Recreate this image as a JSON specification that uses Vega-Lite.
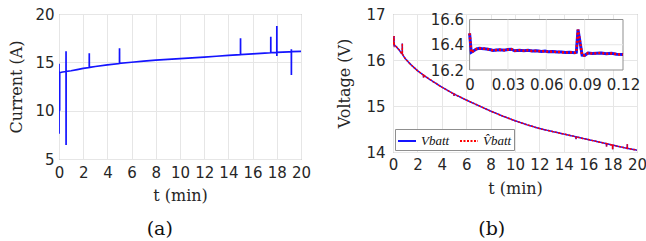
{
  "$schema": "https://vega.github.io/schema/vega-lite/v6.json",
  "background": "white",
  "padding": {"left": 8, "top": 6, "right": 0, "bottom": 0},
  "spacing": 24,
  "datasets": {
    "cur": [
      {"t": 0, "I": 14.85}, {"t": 0.004, "I": 7.6}, {"t": 0.008, "I": 13.92},
      {"t": 0.05, "I": 13.93}, {"t": 0.054, "I": 10.0}, {"t": 0.058, "I": 13.93},
      {"t": 0.3, "I": 14.0}, {"t": 0.58, "I": 14.05}, {"t": 0.583, "I": 16.15}, {"t": 0.586, "I": 6.45}, {"t": 0.589, "I": 14.06},
      {"t": 1.0, "I": 14.13}, {"t": 1.5, "I": 14.25}, {"t": 2.0, "I": 14.37},
      {"t": 2.5, "I": 14.46}, {"t": 2.503, "I": 15.93}, {"t": 2.506, "I": 14.47},
      {"t": 3.0, "I": 14.57}, {"t": 4.0, "I": 14.74},
      {"t": 5.0, "I": 14.88}, {"t": 5.003, "I": 16.45}, {"t": 5.006, "I": 14.89},
      {"t": 6.0, "I": 15.01}, {"t": 7.0, "I": 15.13}, {"t": 8.0, "I": 15.23}, {"t": 9.0, "I": 15.31},
      {"t": 10.0, "I": 15.39}, {"t": 11.0, "I": 15.46}, {"t": 12.0, "I": 15.54}, {"t": 13.0, "I": 15.63},
      {"t": 14.0, "I": 15.72}, {"t": 15.0, "I": 15.8}, {"t": 15.003, "I": 17.49}, {"t": 15.006, "I": 15.81},
      {"t": 16.0, "I": 15.88}, {"t": 17.0, "I": 15.96},
      {"t": 17.5, "I": 15.99}, {"t": 17.503, "I": 17.65}, {"t": 17.506, "I": 16.0},
      {"t": 18.0, "I": 16.03}, {"t": 18.003, "I": 18.76}, {"t": 18.006, "I": 15.66}, {"t": 18.009, "I": 16.04},
      {"t": 19.0, "I": 16.09}, {"t": 19.2, "I": 16.1}, {"t": 19.203, "I": 16.35}, {"t": 19.206, "I": 13.69}, {"t": 19.209, "I": 16.11},
      {"t": 20.0, "I": 16.13}
    ],
    "volt": [
      {"t": 0, "V": 16.49, "Vhat": 16.49}, {"t": 0.0013, "V": 16.34, "Vhat": 16.34}, {"t": 0.003, "V": 16.35, "Vhat": 16.35},
      {"t": 0.0052, "V": 16.366, "Vhat": 16.366}, {"t": 0.0075, "V": 16.372, "Vhat": 16.372}, {"t": 0.0092, "V": 16.37, "Vhat": 16.37},
      {"t": 0.0115, "V": 16.368, "Vhat": 16.368}, {"t": 0.0144, "V": 16.365, "Vhat": 16.365}, {"t": 0.0165, "V": 16.36, "Vhat": 16.36},
      {"t": 0.0183, "V": 16.355, "Vhat": 16.355}, {"t": 0.021, "V": 16.358, "Vhat": 16.358}, {"t": 0.0235, "V": 16.36, "Vhat": 16.36},
      {"t": 0.027, "V": 16.357, "Vhat": 16.357}, {"t": 0.03, "V": 16.362, "Vhat": 16.362}, {"t": 0.0326, "V": 16.365, "Vhat": 16.365},
      {"t": 0.0352, "V": 16.352, "Vhat": 16.352}, {"t": 0.039, "V": 16.357, "Vhat": 16.357}, {"t": 0.0425, "V": 16.352, "Vhat": 16.352},
      {"t": 0.0457, "V": 16.356, "Vhat": 16.356}, {"t": 0.049, "V": 16.35, "Vhat": 16.35}, {"t": 0.0525, "V": 16.353, "Vhat": 16.353},
      {"t": 0.0561, "V": 16.347, "Vhat": 16.347}, {"t": 0.059, "V": 16.35, "Vhat": 16.35}, {"t": 0.0614, "V": 16.344, "Vhat": 16.344},
      {"t": 0.065, "V": 16.347, "Vhat": 16.347}, {"t": 0.0685, "V": 16.342, "Vhat": 16.342}, {"t": 0.0718, "V": 16.342, "Vhat": 16.342},
      {"t": 0.075, "V": 16.338, "Vhat": 16.338}, {"t": 0.0785, "V": 16.34, "Vhat": 16.34}, {"t": 0.0822, "V": 16.336, "Vhat": 16.336},
      {"t": 0.0835, "V": 16.34, "Vhat": 16.34}, {"t": 0.0848, "V": 16.52, "Vhat": 16.52}, {"t": 0.0864, "V": 16.42, "Vhat": 16.42},
      {"t": 0.088, "V": 16.318, "Vhat": 16.318}, {"t": 0.09, "V": 16.316, "Vhat": 16.316}, {"t": 0.0927, "V": 16.334, "Vhat": 16.334},
      {"t": 0.096, "V": 16.33, "Vhat": 16.33}, {"t": 0.0995, "V": 16.333, "Vhat": 16.333}, {"t": 0.103, "V": 16.335, "Vhat": 16.335},
      {"t": 0.107, "V": 16.328, "Vhat": 16.328}, {"t": 0.111, "V": 16.332, "Vhat": 16.332}, {"t": 0.115, "V": 16.325, "Vhat": 16.325},
      {"t": 0.12, "V": 16.322, "Vhat": 16.322},
      {"t": 0.27, "V": 16.29, "Vhat": 16.29}, {"t": 0.5, "V": 16.22, "Vhat": 16.22}, {"t": 0.68, "V": 16.15, "Vhat": 16.15},
      {"t": 0.76, "V": 16.13, "Vhat": 16.13}, {"t": 0.763, "V": 16.36, "Vhat": 16.36}, {"t": 0.766, "V": 16.13, "Vhat": 16.13},
      {"t": 1.0, "V": 16.03, "Vhat": 16.03}, {"t": 1.5, "V": 15.89, "Vhat": 15.89}, {"t": 2.0, "V": 15.77, "Vhat": 15.77},
      {"t": 2.5, "V": 15.67, "Vhat": 15.67}, {"t": 2.503, "V": 15.62, "Vhat": 15.62}, {"t": 2.506, "V": 15.67, "Vhat": 15.67},
      {"t": 3.0, "V": 15.58, "Vhat": 15.58}, {"t": 4.0, "V": 15.41, "Vhat": 15.41},
      {"t": 5.0, "V": 15.26, "Vhat": 15.26}, {"t": 5.003, "V": 15.22, "Vhat": 15.22}, {"t": 5.006, "V": 15.26, "Vhat": 15.26},
      {"t": 6.0, "V": 15.13, "Vhat": 15.13}, {"t": 7.0, "V": 15.01, "Vhat": 15.01}, {"t": 8.0, "V": 14.89, "Vhat": 14.89},
      {"t": 9.0, "V": 14.78, "Vhat": 14.78}, {"t": 10.0, "V": 14.68, "Vhat": 14.68}, {"t": 11.0, "V": 14.59, "Vhat": 14.59},
      {"t": 12.0, "V": 14.51, "Vhat": 14.51}, {"t": 13.0, "V": 14.45, "Vhat": 14.45}, {"t": 14.0, "V": 14.39, "Vhat": 14.39},
      {"t": 15.0, "V": 14.33, "Vhat": 14.33}, {"t": 15.003, "V": 14.28, "Vhat": 14.28}, {"t": 15.006, "V": 14.33, "Vhat": 14.33},
      {"t": 16.0, "V": 14.27, "Vhat": 14.27}, {"t": 17.0, "V": 14.21, "Vhat": 14.21},
      {"t": 17.5, "V": 14.18, "Vhat": 14.18}, {"t": 17.503, "V": 14.12, "Vhat": 14.12}, {"t": 17.506, "V": 14.18, "Vhat": 14.18},
      {"t": 18.0, "V": 14.15, "Vhat": 14.15}, {"t": 18.003, "V": 14.06, "Vhat": 14.06}, {"t": 18.006, "V": 14.15, "Vhat": 14.15},
      {"t": 19.0, "V": 14.09, "Vhat": 14.09}, {"t": 19.2, "V": 14.08, "Vhat": 14.08}, {"t": 19.203, "V": 14.06, "Vhat": 14.06},
      {"t": 19.206, "V": 14.17, "Vhat": 14.17}, {"t": 19.209, "V": 14.08, "Vhat": 14.08},
      {"t": 20.0, "V": 14.04, "Vhat": 14.04}
    ]
  },
  "resolve": {"scale": {"color": "independent", "strokeDash": "independent"}, "legend": {"color": "independent", "strokeDash": "independent"}},
  "hconcat": [
    {
      "width": 242,
      "height": 145,
      "data": {"name": "cur"},
      "title": {"text": "(a)", "orient": "bottom", "frame": "bounds", "anchor": "middle", "font": "DejaVu Serif", "fontSize": 19, "fontWeight": "normal", "color": "#111111", "offset": 17},
      "mark": {"type": "line", "color": "#1414ff", "strokeWidth": 1.7, "clip": true},
      "encoding": {
        "x": {"field": "t", "type": "quantitative", "scale": {"domain": [0, 20], "nice": false},
              "axis": {"values": [0, 2, 4, 6, 8, 10, 12, 14, 16, 18, 20], "title": "t  (min)", "labelPadding": 6, "titlePadding": 7}},
        "y": {"field": "I", "type": "quantitative", "scale": {"domain": [5, 20], "nice": false},
              "axis": {"values": [5, 10, 15, 20], "title": "Current (A)", "labelPadding": 5, "titlePadding": 10}}
      }
    },
    {
      "width": 244,
      "height": 138,
      "title": {"text": "(b)", "orient": "bottom", "frame": "bounds", "anchor": "middle", "font": "DejaVu Serif", "fontSize": 19, "fontWeight": "normal", "color": "#111111", "offset": 24},
      "layer": [
        {
          "data": {"name": "volt"},
          "transform": [{"fold": ["V", "Vhat"], "as": ["key", "val"]}],
          "mark": {"type": "line", "strokeWidth": 1.5, "clip": true},
          "encoding": {
            "x": {"field": "t", "type": "quantitative", "scale": {"domain": [0, 20], "nice": false},
                  "axis": {"values": [0, 2, 4, 6, 8, 10, 12, 14, 16, 18, 20], "title": "t  (min)", "labelPadding": 5, "titlePadding": 8}},
            "y": {"field": "val", "type": "quantitative", "scale": {"domain": [14, 17], "nice": false},
                  "axis": {"values": [14, 15, 16, 17], "title": "Voltage (V)", "labelPadding": 8, "titlePadding": 13}},
            "color": {"field": "key", "type": "nominal", "scale": {"domain": ["V", "Vhat"], "range": ["#1414ff", "#ff0000"]},
                      "legend": {"title": null, "orient": "bottom-left", "offset": 2, "direction": "horizontal", "labelExpr": "datum.label == 'V' ? 'Vbatt' : 'V\u0302batt'"}},
            "strokeDash": {"field": "key", "type": "nominal", "scale": {"domain": ["V", "Vhat"], "range": [[1, 0], [2, 1.5]]},
                      "legend": {"title": null, "orient": "bottom-left", "offset": 2, "direction": "horizontal", "labelExpr": "datum.label == 'V' ? 'Vbatt' : 'V\u0302batt'"}}
          }
        },
        {
          "layer": [
            {
              "data": {"values": [{}]},
              "mark": {"type": "rect", "fill": "white", "stroke": "#8f8f8f", "strokeWidth": 1},
              "encoding": {
                "x": {"datum": 0, "type": "quantitative", "scale": {"domain": [0, 0.12], "range": [76.6, 230], "nice": false, "zero": false},
                      "axis": {"orient": "bottom", "offset": -82, "values": [0, 0.03, 0.06, 0.09, 0.12], "format": ".2~f", "grid": false, "title": null, "labelPadding": 7}},
                "x2": {"datum": 0.12},
                "y": {"datum": 16.2, "type": "quantitative", "scale": {"domain": [16.2, 16.6], "range": [56, 5.5], "nice": false, "zero": false},
                      "axis": {"orient": "left", "offset": -76.6, "values": [16.2, 16.4, 16.6], "format": ".1f", "grid": false, "title": null, "labelPadding": 6}},
                "y2": {"datum": 16.6}
              }
            },
            {
              "data": {"values": [{"g": 0.03}, {"g": 0.06}, {"g": 0.09}]},
              "mark": {"type": "rule", "color": "#e6e6e6", "strokeWidth": 1},
              "encoding": {
                "x": {"field": "g", "type": "quantitative", "axis": {"title": null}},
                "y": {"datum": 16.2, "type": "quantitative", "axis": {"title": null}},
                "y2": {"datum": 16.6}
              }
            },
            {
              "data": {"values": [{"g": 16.4}]},
              "mark": {"type": "rule", "color": "#e6e6e6", "strokeWidth": 1},
              "encoding": {
                "y": {"field": "g", "type": "quantitative", "axis": {"title": null}},
                "x": {"datum": 0, "type": "quantitative", "axis": {"title": null}},
                "x2": {"datum": 0.12}
              }
            },
            {
              "data": {"name": "volt"},
              "transform": [{"filter": "datum.t <= 0.12"}],
              "mark": {"type": "line", "color": "#1414ff", "strokeWidth": 3},
              "encoding": {
                "x": {"field": "t", "type": "quantitative", "axis": {"title": null}},
                "y": {"field": "V", "type": "quantitative", "axis": {"title": null}}
              }
            },
            {
              "data": {"name": "volt"},
              "transform": [{"filter": "datum.t <= 0.12"}],
              "mark": {"type": "line", "color": "#ff0000", "strokeWidth": 2.5, "strokeDash": [2, 2]},
              "encoding": {
                "x": {"field": "t", "type": "quantitative", "axis": {"title": null}},
                "y": {"field": "Vhat", "type": "quantitative", "axis": {"title": null}}
              }
            }
          ]
        }
      ],
      "resolve": {"scale": {"x": "independent", "y": "independent"}, "axis": {"x": "independent", "y": "independent"}}
    }
  ],
  "config": {
    "view": {"stroke": "#8f8f8f", "strokeWidth": 1},
    "axis": {"domain": false, "ticks": false, "grid": true, "gridColor": "#e6e6e6", "gridWidth": 1,
             "labelFont": "DejaVu Sans", "labelFontSize": 15, "labelColor": "#262626", "labelFlush": false, "labelOverlap": false,
             "titleFont": "DejaVu Serif", "titleFontSize": 16, "titleFontWeight": "normal", "titleColor": "#262626"},
    "legend": {"fillColor": "white", "strokeColor": "#8f8f8f", "padding": 2, "symbolType": "stroke", "symbolSize": 324, "symbolStrokeWidth": 2,
               "labelFont": "Liberation Serif", "labelFontStyle": "italic", "labelFontSize": 13, "labelColor": "#111111", "labelOffset": 4, "columnPadding": 6, "symbolOffset": 0}
  }
}
